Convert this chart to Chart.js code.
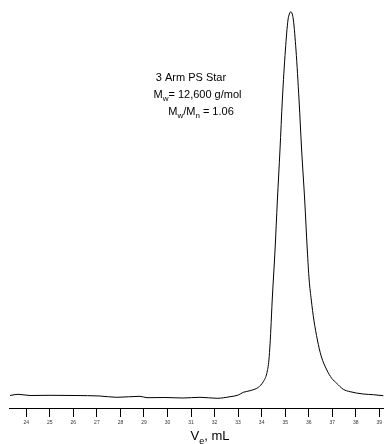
<!DOCTYPE html>
<html>
<head>
<meta charset="utf-8">
<script src="https://cdn.jsdelivr.net/npm/chart.js@4/dist/chart.umd.min.js"></script>
<style>
  html, body { margin: 0; padding: 0; background: #ffffff; }
  #wrap { width: 384px; height: 444px; position: relative; }
</style>
</head>
<body>
<div id="wrap"><canvas id="c" width="384" height="444"></canvas></div>
<script>
// Elution volume (mL) and detector signal (arbitrary units)
const elutionVolume = [
  23.31, 23.65, 24.16, 25.01, 26.07, 27.13, 27.85, 28.83, 29.13, 29.89,
  30.66, 31.38, 32.11, 32.66, 33.01, 33.22, 33.51, 33.86, 34.07, 34.22,
  34.31, 34.36, 34.39, 34.45, 34.57, 34.67, 34.78, 34.88, 35.01, 35.12,
  35.18, 35.24, 35.30, 35.35, 35.46, 35.59, 35.70, 35.83, 35.94, 36.02,
  36.11, 36.22, 36.37, 36.53, 36.77, 36.98, 37.19, 37.47, 37.76, 38.32,
  38.75, 39.17
];
const signal = [
  12.5, 13.7, 12.5, 12.7, 12.5, 12.0, 10.7, 11.7, 10.3, 10.5,
  10.0, 10.7, 9.7, 11.3, 13.0, 15.7, 17.3, 20.7, 26.3, 34.7,
  48.0, 64.7, 78.0, 108, 158, 208, 258, 308, 358, 388,
  394, 396.3, 394, 388, 358, 308, 258, 208, 158, 128,
  108, 88, 68, 52, 38.0, 29.7, 24.7, 18.7, 16.3, 14.0,
  13.3, 12.3
];
const tickValues = [24, 25, 26, 27, 28, 29, 30, 31, 32, 33, 34, 35, 36, 37, 38, 39];
const xAxisTitle = [["V", false], ["e", true], [", mL", false]];
const annotationLines = [
  [["3 Arm PS Star", false]],
  [["M", false], ["w", true], ["= 12,600 g/mol", false]],
  [["M", false], ["w", true], ["/M", false], ["n", true], [" = 1.06", false]]
];

const FONT = 'Arial, "Liberation Sans", sans-serif';

function drawRich(ctx, parts, x, y, size, align) {
  const subSize = Math.round(size * 0.72);
  let total = 0;
  parts.forEach(([t, sub]) => {
    ctx.font = (sub ? subSize : size) + 'px ' + FONT;
    total += ctx.measureText(t).width;
  });
  let cx = align === 'center' ? x - total / 2 : x;
  parts.forEach(([t, sub]) => {
    ctx.font = (sub ? subSize : size) + 'px ' + FONT;
    ctx.fillText(t, cx, sub ? y + size * 0.3 : y);
    cx += ctx.measureText(t).width;
  });
}

const textPlugin = {
  id: 'richText',
  afterDraw(chart) {
    const ctx = chart.ctx;
    ctx.save();
    ctx.fillStyle = '#000';
    ctx.textBaseline = 'alphabetic';
    ctx.textAlign = 'left';
    drawRich(ctx, annotationLines[0], 191, 80.7, 11, 'center');
    drawRich(ctx, annotationLines[1], 197.5, 97.8, 11, 'center');
    drawRich(ctx, annotationLines[2], 201, 114.8, 11, 'center');
    drawRich(ctx, xAxisTitle, 210, 440, 13, 'center');
    ctx.restore();
  }
};

new Chart(document.getElementById('c'), {
  type: 'line',
  data: {
    datasets: [{
      data: elutionVolume.map((v, i) => ({ x: v, y: signal[i] })),
      borderColor: '#000',
      borderWidth: 1,
      pointRadius: 0,
      fill: false,
      cubicInterpolationMode: 'monotone'
    }]
  },
  options: {
    responsive: false,
    animation: false,
    events: [],
    layout: { padding: { left: 9, right: 0, top: 0, bottom: 0 } },
    plugins: { legend: { display: false }, tooltip: { enabled: false } },
    scales: {
      x: {
        type: 'linear',
        min: 23.265,
        max: 39.20,
        afterBuildTicks(scale) { scale.ticks = tickValues.map(v => ({ value: v })); },
        afterFit(scale) { scale.height = 36; scale.paddingLeft = 0; scale.paddingRight = 0; },
        border: { display: true, color: '#000', width: 1 },
        grid: { display: true, drawOnChartArea: false, drawTicks: true, tickLength: 9, color: '#000', lineWidth: 1 },
        ticks: {
          autoSkip: false,
          maxRotation: 0,
          padding: 3,
          color: '#333',
          font: { family: FONT, size: 5 },
          callback: v => String(v)
        }
      },
      y: {
        display: false,
        min: 0,
        max: 408
      }
    }
  },
  plugins: [textPlugin]
});
</script>
</body>
</html>
